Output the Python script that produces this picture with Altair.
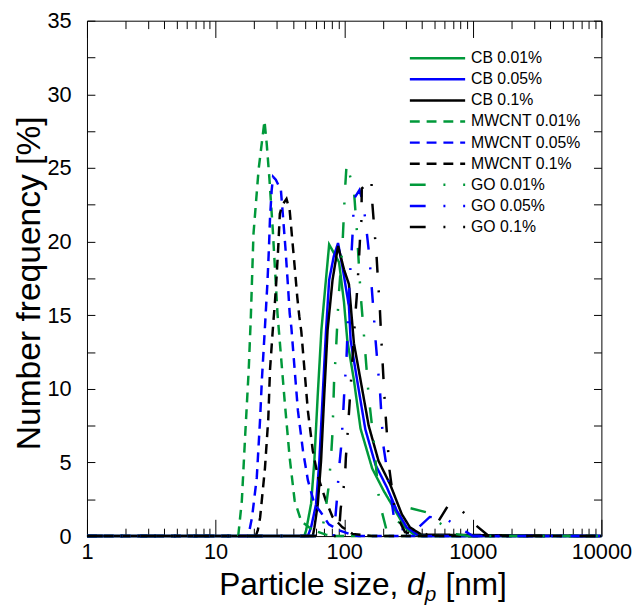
import altair as alt
import pandas as pd

# ---------------- data ----------------
series = ["CB 0.01%", "CB 0.05%", "CB 0.1%",
          "MWCNT 0.01%", "MWCNT 0.05%", "MWCNT 0.1%",
          "GO 0.01%", "GO 0.05%", "GO 0.1%"]
series_colors = ["#00993A", "#0000FF", "#000000",
                 "#00993A", "#0000FF", "#000000",
                 "#00993A", "#0000FF", "#000000"]
series_dashes = [[1, 0], [1, 0], [1, 0],
                 [10, 7], [10, 7], [10, 7],
                 [16, 18, 2, 18], [16, 18, 2, 18], [16, 18, 2, 18]]

cb001_size = [1, 49, 50.6, 55.3, 58.6, 62.3, 66.5, 72.1, 76.4, 91.2, 99.6, 105.7, 119, 134, 165, 202, 249, 296, 343, 398, 10000]
cb001_freq = [0, 0, 0.4, 2.2, 5.1, 9.6, 14.0, 17.4, 19.8, 18.6, 15.9, 13.3, 10.6, 7.3, 4.6, 3.1, 1.75, 0.6, 0.15, 0, 0]

cb005_size = [1, 52.2, 55.3, 60.4, 64.1, 68.1, 72.1, 76.4, 83.0, 89.6, 96.9, 108.9, 112.2, 126, 146, 175, 215, 256, 306, 375, 400, 10000]
cb005_freq = [0, 0, 0.6, 2.15, 5.1, 9.6, 13.8, 17.4, 19.0, 19.9, 18.3, 15.6, 13.3, 10.6, 7.25, 4.85, 3.3, 1.75, 0.6, 0.07, 0, 0]

cb01_size = [1, 57.0, 58.7, 62.3, 66.1, 70.0, 74.3, 81.2, 89.6, 99.7, 108.9, 119, 134, 155, 185, 228, 280, 324, 398, 10000]
cb01_freq = [0, 0, 0.6, 2.15, 5.1, 9.6, 14.0, 17.4, 19.7, 18.1, 17.1, 13.1, 10.6, 7.5, 5.1, 3.5, 1.5, 0.6, 0.1, 0]

mw001_size = [1, 15.0, 16.0, 17.0, 18.1, 18.8, 19.7, 21.6, 24.0, 25.0, 26.2, 27.8, 30.3, 34.5, 37.7, 41.2, 46.4, 57.0, 72.1, 85, 10000]
mw001_freq = [0, 0, 2.4, 6.9, 11.3, 14.9, 20.5, 24.9, 28.2, 26.6, 24.3, 20.9, 15.1, 9.1, 5.3, 2.4, 1.0, 0.4, 0.1, 0, 0]

mw005_size = [1, 17.5, 18.1, 19.2, 20.9, 22.2, 22.9, 24.2, 25.3, 26.0, 26.5, 27.3, 28.0, 29.4, 32.2, 33.5, 34.9, 36.6, 37.7, 38.8, 41.2, 43.7, 47.8, 52.2, 58.6, 66.0, 76.0, 90.7, 116, 130, 10000]
mw005_freq = [0, 0, 0.15, 1.27, 3.95, 7.98, 10.6, 14.2, 17.2, 19.6, 21.6, 23.5, 24.4, 24.2, 23.5, 21.6, 19.6, 16.9, 15.1, 14.2, 11.3, 8.5, 5.8, 3.8, 2.2, 1.6, 0.8, 0.4, 0.07, 0, 0]

mw01_size = [1, 20.5, 21.3, 22.2, 24.2, 25.7, 26.5, 28.1, 28.9, 29.8, 30.7, 31.6, 33.1, 35.6, 37.7, 39.5, 41.2, 43.2, 44.8, 46.4, 49.1, 52.2, 57.0, 62.2, 72.1, 81.2, 96.9, 116, 165, 10000]
mw01_freq = [0, 0, 0.4, 1.27, 4.6, 8.0, 11.3, 14.5, 15.8, 17.6, 19.6, 21.9, 22.5, 22.9, 22.1, 20.1, 18.3, 16.2, 14.9, 13.9, 11.3, 8.5, 5.8, 4.1, 2.4, 1.3, 0.6, 0.15, 0, 0]

go001_size = [1, 66, 70.9, 75.3, 78.7, 81.2, 83.5, 86.1, 90.3, 96.9, 101.3, 104.5, 119, 126, 134, 142, 155, 170, 185, 197, 215, 249, 324, 443, 550, 718, 936, 10000]
go001_freq = [0, 0, 1.5, 3.2, 5.1, 7.1, 10.6, 12.4, 16.1, 19.7, 23.4, 25.3, 23.5, 20.5, 16.5, 13.8, 9.5, 6.4, 2.8, 1.6, 0.3, 0.6, 1.9, 1.6, 0.9, 0.15, 0, 0]

go005_size = [1, 83, 88, 91, 95, 98, 100.5, 104, 110, 114, 117, 119, 131.5, 141, 149, 157, 163, 169, 175, 182, 190, 196, 202, 234, 244, 264, 358, 463, 612, 812, 1000, 10000]
go005_freq = [0, 0, 2.6, 4.5, 6.2, 8.2, 10.0, 11.9, 17.3, 19.2, 21.0, 22.9, 23.5, 22.6, 20.8, 19.0, 17.1, 15.3, 13.4, 11.6, 9.8, 7.8, 6.1, 2.4, 1.2, 0.5, 0.4, 1.3, 1.2, 0.5, 0, 0]

go01_size = [1, 90.7, 94, 97, 101.5, 103, 106, 122, 125, 130, 134, 136, 137, 162.7, 164.5, 171, 178, 183, 189, 193.5, 198.6, 204, 210, 225, 249, 297, 422, 505, 635, 694, 828, 1054, 1334, 10000]
go01_freq = [0, 0, 1.9, 2.7, 4.0, 5.3, 6.8, 15.0, 16.2, 18.6, 20.9, 21.4, 23.6, 24.3, 22.9, 21.0, 19.2, 17.4, 15.6, 13.7, 11.9, 10.0, 8.2, 4.5, 1.6, 0.27, 0, 0.6, 2.0, 2.1, 1.7, 0.74, 0, 0]

x_major = [1, 10, 100, 1000, 10000]
x_minor = [2, 3, 4, 5, 6, 7, 8, 9, 20, 30, 40, 50, 60, 70, 80, 90,
           200, 300, 400, 500, 600, 700, 800, 900,
           2000, 3000, 4000, 5000, 6000, 7000, 8000, 9000]
y_ticks = [0, 2.5, 5, 7.5, 10, 12.5, 15, 17.5, 20, 22.5, 25, 27.5, 30, 32.5, 35]

# ---------------- table ----------------
all_sizes = [cb001_size, cb005_size, cb01_size, mw001_size, mw005_size, mw01_size, go001_size, go005_size, go01_size]
all_freqs = [cb001_freq, cb005_freq, cb01_freq, mw001_freq, mw005_freq, mw01_freq, go001_freq, go005_freq, go01_freq]
rows = []
for name, ss, ff in zip(series, all_sizes, all_freqs):
    for s, f in zip(ss, ff):
        rows.append({"series": name, "size": s, "freq": f})
df = pd.DataFrame(rows)

W, H = 521, 522
FONT = "Liberation Sans"
LFS = 22


def xsc():
    return alt.Scale(type="log", domain=[1, 10000], nice=False)


def ysc():
    return alt.Scale(domain=[0, 35], nice=False, zero=False)


color = alt.Color("series:N", scale=alt.Scale(domain=series, range=series_colors), legend=None)
dash = alt.StrokeDash("series:N", scale=alt.Scale(domain=series, range=series_dashes), legend=None)

lines = alt.Chart(df).mark_line(strokeWidth=2.5).encode(
    x=alt.X("size:Q", scale=xsc(),
            axis=alt.Axis(orient="bottom", values=x_major, format="d", tickSize=17, offset=-17,
                          domain=False, grid=False, labelFontSize=LFS, labelPadding=6,
                          labelFlush=False, labelOverlap=False, labelBound=False, title=None)),
    y=alt.Y("freq:Q", scale=ysc(),
            axis=alt.Axis(orient="left", values=y_ticks,
                          labelExpr="datum.value % 5 == 0 ? datum.label : ''",
                          tickSize=8, offset=-8, domain=False, grid=False,
                          labelFontSize=LFS, labelPadding=16, labelOverlap=False, title=None)),
    color=color,
    strokeDash=dash,
)

axis_df = pd.DataFrame({"size": [1, 10000], "freq": [0, 35]})

ticks_b_minor = alt.Chart(axis_df).mark_point(opacity=0).encode(
    x=alt.X("size:Q", scale=xsc(),
            axis=alt.Axis(orient="bottom", values=x_minor, tickSize=8, offset=-8, labels=False,
                          domain=False, grid=False, title=None)),
    y=alt.Y("freq:Q", scale=ysc(),
            axis=alt.Axis(orient="right", values=y_ticks, tickSize=8, offset=-8, labels=False,
                          domain=False, grid=False, title=None)),
)

ticks_t_major = alt.Chart(axis_df).mark_point(opacity=0).encode(
    x=alt.X("size:Q", scale=xsc(),
            axis=alt.Axis(orient="top", values=x_major, tickSize=17, offset=-17, labels=False,
                          domain=False, grid=False, title=None)),
    y=alt.Y("freq:Q", scale=ysc(), axis=None),
)

ticks_t_minor = alt.Chart(axis_df).mark_point(opacity=0).encode(
    x=alt.X("size:Q", scale=xsc(),
            axis=alt.Axis(orient="top", values=x_minor, tickSize=8, offset=-8, labels=False,
                          domain=False, grid=False, title=None)),
    y=alt.Y("freq:Q", scale=ysc(), axis=None),
)

# legend
leg_df = pd.DataFrame({"series": series})
leg_y = alt.Y("series:N", scale=alt.Scale(type="point", domain=series, range=[38, 209], padding=0), axis=None)
legend_lines = alt.Chart(leg_df).mark_rule(strokeWidth=2.5).encode(
    x=alt.value(327), x2=alt.value(383), y=leg_y, color=color, strokeDash=dash)
legend_text = alt.Chart(leg_df).mark_text(align="left", baseline="middle", fontSize=16,
                                          font=FONT, color="black").encode(
    x=alt.value(389), y=leg_y, text="series:N")

# axis titles
one = pd.DataFrame({"a": [0]})
TFS = 32
base_y = 582
t1 = alt.Chart(one).mark_text(align="left", baseline="alphabetic", fontSize=TFS, font=FONT,
                              text="Particle size,", color="black").encode(
    x=alt.value(134), y=alt.value(base_y))
t2 = alt.Chart(one).mark_text(align="left", baseline="alphabetic", fontSize=TFS, font=FONT,
                              fontStyle="italic", text="d", color="black").encode(
    x=alt.value(324), y=alt.value(base_y))
t3 = alt.Chart(one).mark_text(align="left", baseline="alphabetic", fontSize=21, font=FONT,
                              fontStyle="italic", text="p", color="black").encode(
    x=alt.value(342), y=alt.value(base_y + 6))
t4 = alt.Chart(one).mark_text(align="left", baseline="alphabetic", fontSize=TFS, font=FONT,
                              text="[nm]", color="black").encode(
    x=alt.value(363), y=alt.value(base_y))
ytitle = alt.Chart(one).mark_text(align="center", baseline="middle", fontSize=34, font=FONT,
                                  angle=270, text="Number frequency [%]", color="black").encode(
    x=alt.value(-58), y=alt.value(266))

chart = alt.layer(
    lines, ticks_b_minor, ticks_t_major, ticks_t_minor,
    legend_lines, legend_text, t1, t2, t3, t4, ytitle
).resolve_scale(
    x="independent", y="independent"
).resolve_axis(
    x="independent", y="independent"
).properties(
    width=W, height=H,
    autosize=alt.AutoSizeParams(type="none"),
    padding={"left": 80, "top": 9, "right": 31, "bottom": 72},
).configure(
    font=FONT
).configure_view(
    stroke="black", strokeWidth=1
).configure_axis(
    tickColor="black", labelColor="black", tickWidth=1, labelFont=FONT
)

chart.save("out.html", embed_options={"renderer": "svg", "actions": False})
